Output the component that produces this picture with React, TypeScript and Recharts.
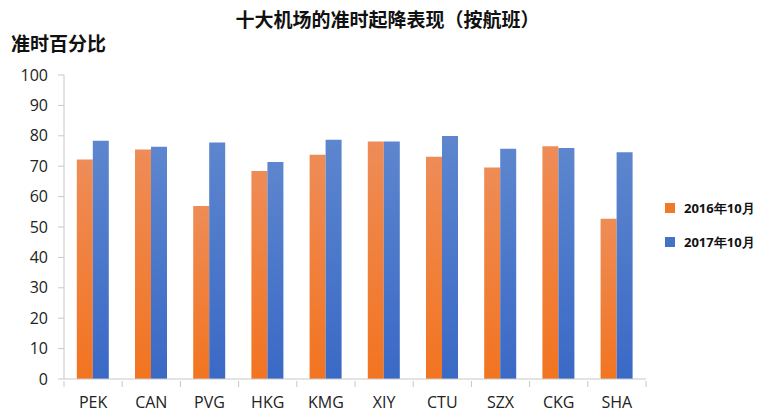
import React from 'react';
import { BarChart, Bar, XAxis, YAxis } from 'recharts';

const airports = ['PEK', 'CAN', 'PVG', 'HKG', 'KMG', 'XIY', 'CTU', 'SZX', 'CKG', 'SHA'];
const oct2016 = [72.2, 75.5, 56.9, 68.4, 73.8, 78.1, 73.1, 69.6, 76.6, 52.7];
const oct2017 = [78.4, 76.4, 77.8, 71.4, 78.7, 78.1, 79.9, 75.7, 76.0, 74.6];
const yTicks = [0, 10, 20, 30, 40, 50, 60, 70, 80, 90, 100];
const seriesNames = ['2016年10月', '2017年10月'];

const data = airports.map((name, i) => ({ name, a: oct2016[i], b: oct2017[i] }));

const BAND = 58.2;
const CJK = '"Noto Sans CJK SC", "Noto Sans", sans-serif';
const LATIN = '"Open Sans", "Liberation Sans", sans-serif';

function CategoryTick(props: any) {
  const { x, y, payload, index } = props;
  const last = index === airports.length - 1;
  return (
    <g>
      <line x1={x - BAND / 2} y1={y - 6} x2={x - BAND / 2} y2={y} stroke="#c8c8c8" />
      {last && <line x1={x + BAND / 2} y1={y - 6} x2={x + BAND / 2} y2={y} stroke="#c8c8c8" />}
      <text x={x} y={y + 21} textAnchor="middle" fontSize={16} fill="#222" fontFamily={LATIN}>
        {payload.value}
      </text>
    </g>
  );
}

export default function App() {
  return (
    <div style={{ position: 'absolute', left: 0, top: 0, width: 775, height: 412, background: '#fff' }}>
      <div style={{ position: 'absolute', left: 0, width: 775, top: 5, textAlign: 'center', fontFamily: CJK, fontWeight: 700, fontSize: 19, color: '#111' }}>
        十大机场的准时起降表现（按航班）
      </div>
      <div style={{ position: 'absolute', left: 11, top: 29, fontFamily: CJK, fontWeight: 700, fontSize: 19, color: '#111' }}>
        准时百分比
      </div>
      <BarChart
        width={775}
        height={412}
        data={data}
        margin={{ top: 75, right: 129, bottom: 0, left: 0 }}
        barCategoryGap="22%"
        barGap={0}
      >
        <defs>
          <linearGradient id="gOrange" x1="0" y1="0" x2="0" y2="1">
            <stop offset="0%" stopColor="#EE8C57" />
            <stop offset="100%" stopColor="#F27420" />
          </linearGradient>
          <linearGradient id="gBlue" x1="0" y1="0" x2="0" y2="1">
            <stop offset="0%" stopColor="#5D86CE" />
            <stop offset="100%" stopColor="#3A69C6" />
          </linearGradient>
        </defs>
        <XAxis
          dataKey="name"
          height={33}
          axisLine={{ stroke: '#c8c8c8' }}
          tickLine={false}
          tick={<CategoryTick />}
          interval={0}
        />
        <YAxis
          width={64}
          domain={[0, 100]}
          ticks={yTicks}
          interval={0}
          axisLine={{ stroke: '#c8c8c8' }}
          tickLine={{ stroke: '#c8c8c8' }}
          tickSize={6}
          tickMargin={10}
          tick={{ fontSize: 16, fill: '#222', fontFamily: LATIN }}
        />
        <Bar dataKey="a" name={seriesNames[0]} fill="url(#gOrange)" isAnimationActive={false} />
        <Bar dataKey="b" name={seriesNames[1]} fill="url(#gBlue)" isAnimationActive={false} />
      </BarChart>
      <div style={{ position: 'absolute', left: 665, top: 199, fontFamily: LATIN, fontWeight: 700, fontSize: 13, color: '#111' }}>
        <div style={{ display: 'flex', alignItems: 'center', height: 18 }}>
          <span style={{ width: 10, height: 10, background: '#F07A2A', marginRight: 9 }} />
          {seriesNames[0]}
        </div>
        <div style={{ display: 'flex', alignItems: 'center', height: 18, marginTop: 16 }}>
          <span style={{ width: 10, height: 10, background: '#4472C4', marginRight: 9 }} />
          {seriesNames[1]}
        </div>
      </div>
    </div>
  );
}
